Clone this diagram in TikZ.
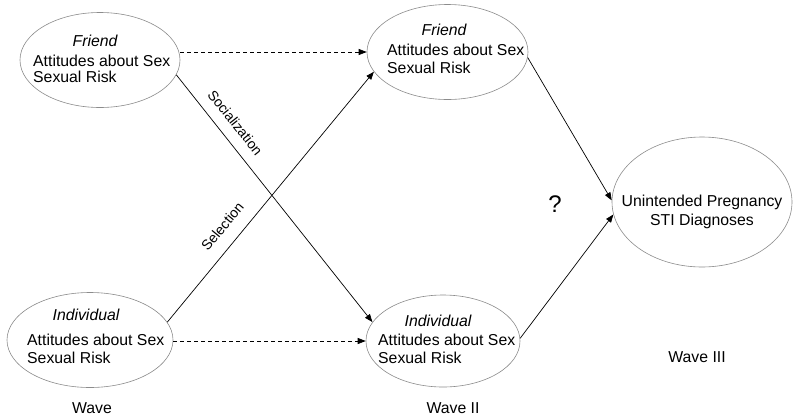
\documentclass[tikz,border=0pt]{standalone}
\usepackage{fontspec}
\setmainfont{Liberation Sans}
\usetikzlibrary{shapes.geometric,arrows.meta}
\begin{document}
\begin{tikzpicture}[x=1pt,y=-1pt,
  oval/.style={ellipse, draw=black!45, line width=0.6pt, inner sep=0pt},
  txt/.style={inner sep=0pt, font=\fontsize{15.8}{18}\selectfont},
  itxt/.style={inner sep=0pt, font=\fontsize{15.8}{18}\selectfont\itshape},
  arr/.style={-{Triangle[length=8pt,width=6pt]}, line width=0.7pt},
  dsh/.style={arr, dash pattern=on 4pt off 3pt},
  plbl/.style={inner sep=0pt, font=\fontsize{14}{16}\selectfont, sloped}]
\useasboundingbox[fill=white] (0,0) rectangle (800,418);

% ellipses
\node[oval, minimum width=160, minimum height=95] (f1) at (100,60) {};
\node[oval, minimum width=161, minimum height=95] (f2) at (447.5,52) {};
\node[oval, minimum width=166, minimum height=95] (i1) at (90,340) {};
\node[oval, minimum width=154, minimum height=92] (i2) at (443,341) {};
\node[oval, minimum width=180, minimum height=130] (out) at (702,202) {};

% texts
\node[itxt, anchor=base] (f1a) at (95,46) {Friend};
\node[txt, anchor=base west] (f1b) at (33,66) {Attitudes about Sex};
\node[txt, anchor=base west] (f1c) at (33,82) {Sexual Risk};

\node[itxt, anchor=base] (f2a) at (444,35) {Friend};
\node[txt, anchor=base west] (f2b) at (387,55) {Attitudes about Sex};
\node[txt, anchor=base west] (f2c) at (387,73) {Sexual Risk};

\node[itxt, anchor=base] (i1a) at (86,320) {Individual};
\node[txt, anchor=base west] (i1b) at (27,345) {Attitudes about Sex};
\node[txt, anchor=base west] (i1c) at (27,363) {Sexual Risk};

\node[itxt, anchor=base] (i2a) at (438,326) {Individual};
\node[txt, anchor=base west] (i2b) at (378,345) {Attitudes about Sex};
\node[txt, anchor=base west] (i2c) at (378,363) {Sexual Risk};

\node[txt, anchor=base] (o1) at (702,206) {Unintended Pregnancy};
\node[txt, anchor=base] (o2) at (702,225) {STI Diagnoses};

\node[inner sep=0pt, font=\fontsize{24}{26}\selectfont, anchor=base] (q) at (555,212) {?};

\node[txt, anchor=base] (w1) at (92,413) {Wave};
\node[txt, anchor=base] (w2) at (453,413) {Wave II};
\node[txt, anchor=base] (w3) at (697,362) {Wave III};

% connectors
\draw[dsh] (f2.west -| f1.east) -- (f2.west);
\draw[dsh] (i2.west -| i1.east) -- (i2.west);
\draw[arr] (f1.-11) -- node[plbl, pos=0.235, above=11pt] (soc) {Socialization} (i2.165);
\draw[arr] (i1.13) -- node[plbl, pos=0.336, above=13pt] (sel) {Selection} (f2.195);
\draw[arr] (f2.-4) -- (out.179);
\draw[arr] (i2.2) -- (out.188);
\end{tikzpicture}
\end{document}
